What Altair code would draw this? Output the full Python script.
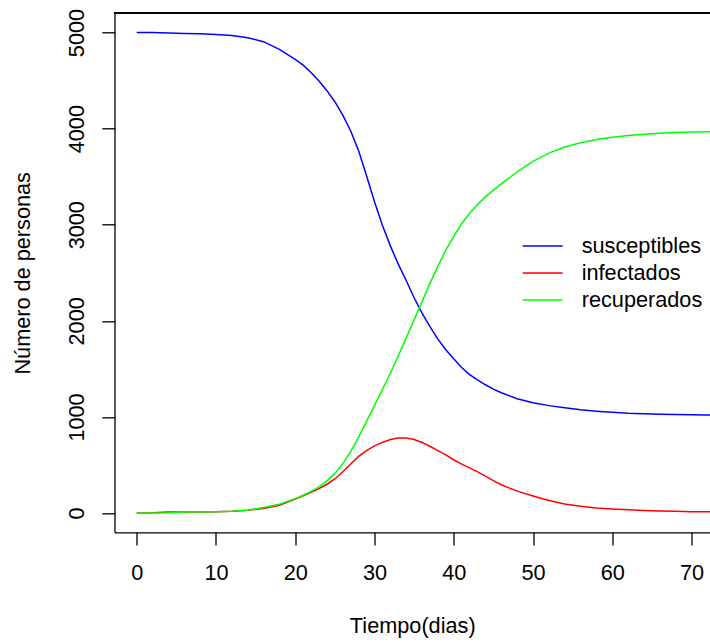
import altair as alt
import pandas as pd

# ---- data ----
days = [0, 2, 4, 6, 8, 10, 12, 14, 16, 18, 20, 21, 22, 23, 24, 25, 26, 27, 28, 29,
        30, 31, 32, 33, 34, 35, 36, 37, 38, 39, 40, 41, 42, 43, 44, 45, 46, 48, 50,
        52, 54, 56, 58, 60, 62, 64, 66, 68, 70, 72, 73]

susceptibles = [5000, 4999, 4996, 4991, 4986, 4980, 4968, 4945, 4905, 4825, 4720, 4660,
                4585, 4495, 4395, 4280, 4140, 3975, 3770, 3510, 3240, 2995, 2780, 2590,
                2420, 2240, 2080, 1940, 1810, 1700, 1605, 1515, 1440, 1385, 1335, 1290,
                1252, 1190, 1148, 1118, 1095, 1075, 1060, 1048, 1038, 1033, 1029, 1026,
                1022, 1020, 1019]

infectados = [2, 3, 10, 11, 12, 15, 20, 30, 48, 80, 145, 180, 215, 255, 300, 355, 430,
              510, 590, 650, 700, 735, 765, 780, 782, 765, 735, 695, 650, 605, 555, 510,
              470, 428, 384, 338, 295, 228, 178, 130, 95, 70, 52, 42, 34, 27, 22, 18, 15,
              13, 12]

recuperados = [0, 2, 4, 10, 12, 14, 18, 30, 58, 92, 150, 185, 225, 272, 335, 410, 515,
               640, 790, 955, 1120, 1285, 1455, 1635, 1820, 2010, 2200, 2390, 2570, 2735,
               2880, 3010, 3120, 3210, 3290, 3360, 3425, 3550, 3660, 3745, 3808, 3853,
               3887, 3910, 3928, 3942, 3952, 3960, 3964, 3967, 3968]

series_names = ["susceptibles", "infectados", "recuperados"]
series_colors = ["#0000FF", "#FF0000", "#00FF00"]
x_ticks = [0, 10, 20, 30, 40, 50, 60, 70]
y_ticks = [0, 1000, 2000, 3000, 4000, 5000]
x_title = "Tiempo(dias)"
y_title = "Número de personas"

rows = []
for name, vals in zip(series_names, [susceptibles, infectados, recuperados]):
    for d, v in zip(days, vals):
        rows.append({"dia": d, "personas": v, "serie": name})
df = pd.DataFrame(rows)

FONT = "Liberation Sans"
FS = 21.7
INK = "#000000"

common_axis = dict(grid=False, domainColor=INK, domainWidth=1.3, tickColor=INK,
                   tickWidth=1.3, tickSize=12.7, labelFont=FONT, labelFontSize=FS,
                   labelColor=INK, titleFont=FONT, titleFontSize=FS, titleColor=INK,
                   titleFontWeight="normal", labelFlush=False, labelOverlap=False)

x_enc = alt.X("dia:Q",
              scale=alt.Scale(domain=[-2.8, 72.33], nice=False, zero=False),
              axis=alt.Axis(values=x_ticks, title=x_title, format="d", labelPadding=17.5,
                            labelBaseline="top", labelAlign="center",
                            titleBaseline="alphabetic", titleAlign="center",
                            titleX=297.75, titleY=99.8, **common_axis))
y_enc = alt.Y("personas:Q",
              scale=alt.Scale(domain=[-200, 5200], nice=False, zero=False),
              axis=alt.Axis(values=y_ticks, title=y_title, format="d", labelAngle=270,
                            labelAlign="center", labelBaseline="alphabetic",
                            labelPadding=18.6, titleAngle=270, titleAlign="center",
                            titleBaseline="alphabetic", titleX=-85, titleY=259.5,
                            **common_axis))
color_enc = alt.Color("serie:N",
                      scale=alt.Scale(domain=series_names, range=series_colors),
                      legend=alt.Legend(title=None, orient="none", legendX=407.2,
                                        legendY=219.5, symbolType="stroke",
                                        symbolSize=1600, symbolStrokeWidth=1.5,
                                        clipHeight=26.5, rowPadding=0, labelOffset=18,
                                        labelFont=FONT, labelFontSize=FS,
                                        labelColor=INK, padding=0, labelLimit=0))

base = alt.Chart(df)
layers = []
for name in series_names:
    layers.append(
        base.transform_filter(alt.datum.serie == name)
        .mark_line(strokeWidth=1.5, clip=True)
        .encode(x=x_enc, y=y_enc, color=color_enc)
    )

top_border = alt.Chart(df).mark_rule(color=INK, strokeWidth=1.3).encode(y=alt.datum(5200))

chart = alt.layer(*layers, top_border).properties(
    width=595.5, height=519,
    autosize=alt.AutoSizeParams(type="none"),
    padding={"left": 114.5, "top": 13.3, "right": 0, "bottom": 110},
    background="white",
).configure_view(strokeWidth=0)

chart.save("out.html", embed_options={"renderer": "svg", "actions": False})
